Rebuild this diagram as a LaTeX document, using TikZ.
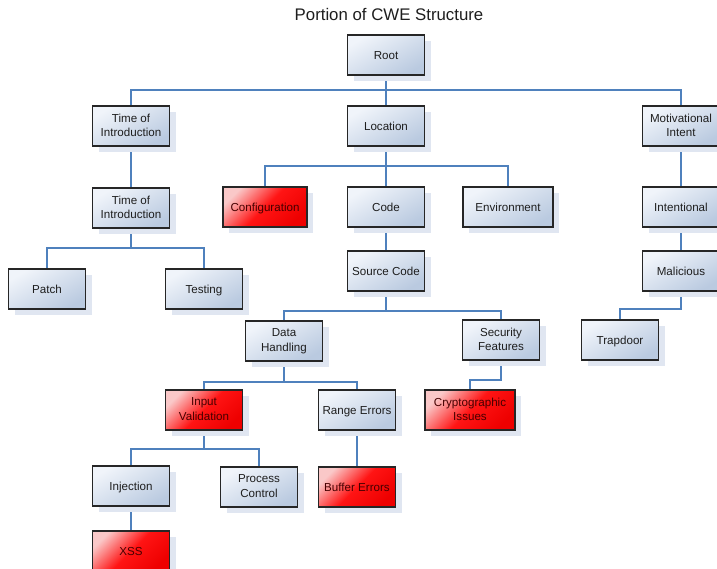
\documentclass[tikz,border=0pt]{standalone}
\usepackage{fontspec}
\setmainfont{Liberation Sans}
\usetikzlibrary{shadows,backgrounds}
\newcommand\boxstrut{\rule[-1.5pt]{0pt}{12.5pt}}
\definecolor{linkc}{RGB}{79,129,189}
\definecolor{boxlight}{RGB}{240,244,250}
\definecolor{boxdark}{RGB}{186,202,224}
\definecolor{redlight}{RGB}{250,200,200}
\definecolor{reddark}{RGB}{238,0,0}
\definecolor{shadowc}{RGB}{224,230,241}
\definecolor{txtc}{RGB}{30,30,30}
\definecolor{redtxt}{RGB}{70,0,0}
\tikzset{
  box/.style={draw=black!85, line width=1.1pt, minimum width=77pt, minimum height=40pt,
    inner sep=1pt, align=center, text=txtc,
    font=\fontsize{11.6}{14.5}\selectfont,
    execute at begin node=\boxstrut, execute at end node=\boxstrut,
    top color=boxlight, bottom color=boxdark, shading angle=30,
    drop shadow={shadow xshift=6pt, shadow yshift=-6pt, fill=shadowc, opacity=1}},
  redbox/.style={box, top color=redlight, bottom color=reddark, middle color=red!92!white, shading angle=45, text=redtxt},
  link/.style={draw=linkc, line width=1.4pt}
}
\begin{document}
\begin{tikzpicture}[x=1pt,y=-1pt]
\useasboundingbox (0,0) rectangle (717,569);
\node[font=\fontsize{16.8}{20}\selectfont, text=txtc] (title) at (389,14) {Portion of CWE Structure};
\node[box] (root) at (386,55) {Root};
\node[box] (toi1) at (131,126) {Time of\\Introduction};
\node[box] (loc) at (386,126) {Location};
\node[box] (mot) at (681,126) {Motivational\\Intent};
\node[box] (toi2) at (131,208) {Time of\\Introduction};
\node[redbox, minimum width=84pt] (conf) at (265,207) {Configuration};
\node[box] (code) at (386,207) {Code};
\node[box, minimum width=90pt] (env) at (508,207) {Environment};
\node[box] (intent) at (681,207) {Intentional};
\node[box] (patch) at (47,289) {Patch};
\node[box] (testing) at (204,289) {Testing};
\node[box] (src) at (386,271) {Source Code};
\node[box] (mal) at (681,271) {Malicious};
\node[box] (dh) at (284,341) {Data\\Handling};
\node[box] (sec) at (501,340) {Security\\Features};
\node[box] (trap) at (620,340) {Trapdoor};
\node[redbox] (iv) at (204,410) {Input\\Validation};
\node[box] (range) at (357,410) {Range Errors};
\node[redbox, minimum width=90pt] (crypto) at (470,410) {Cryptographic\\Issues};
\node[box] (inj) at (131,486) {Injection};
\node[box] (proc) at (259,487) {Process\\Control};
\node[redbox] (buf) at (357,487) {Buffer Errors};
\node[redbox] (xss) at (131,551) {XSS};
\begin{scope}[on background layer]
\draw[link] (root.south) -- (root.south |- 0,90) -| (toi1.north);
\draw[link] (root.south) -- (loc.north);
\draw[link] (root.south |- 0,90) -| (mot.north);
\draw[link] (toi1.south) -- (toi2.north);
\draw[link] (loc.south) -- (code.north);
\draw[link] (loc.south |- 0,166) -| (conf.north);
\draw[link] (loc.south |- 0,166) -| (env.north);
\draw[link] (mot.south) -- (intent.north);
\draw[link] (toi2.south) -- (toi2.south |- 0,248) -| (patch.north);
\draw[link] (toi2.south |- 0,248) -| (testing.north);
\draw[link] (code.south) -- (src.north);
\draw[link] (intent.south) -- (mal.north);
\draw[link] (src.south) -- (src.south |- 0,311) -| (dh.north);
\draw[link] (src.south |- 0,311) -| (sec.north);
\draw[link] (mal.south) -- (mal.south |- 0,309) -| (trap.north);
\draw[link] (dh.south) -- (dh.south |- 0,382) -| (iv.north);
\draw[link] (dh.south |- 0,382) -| (range.north);
\draw[link] (sec.south) -- (sec.south |- 0,380) -| (crypto.north);
\draw[link] (iv.south) -- (iv.south |- 0,449) -| (inj.north);
\draw[link] (iv.south |- 0,449) -| (proc.north);
\draw[link] (range.south) -- (buf.north);
\draw[link] (inj.south) -- (xss.north);
\end{scope}
\end{tikzpicture}
\end{document}
